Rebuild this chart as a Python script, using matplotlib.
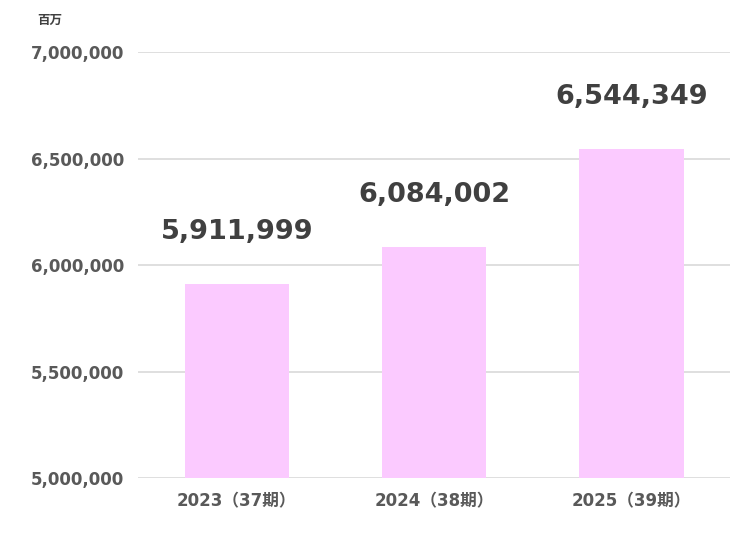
import matplotlib
matplotlib.use("Agg")
import matplotlib.pyplot as plt
from matplotlib.ticker import FuncFormatter

plt.rcParams['font.family'] = ['DejaVu Sans', 'Noto Sans CJK JP']

categories = ["2023（37期）", "2024（38期）", "2025（39期）"]
values = [5911999, 6084002, 6544349]
yticks = [5000000, 5500000, 6000000, 6500000, 7000000]

fig = plt.figure(figsize=(7.55, 5.33), dpi=100)
ax = fig.add_axes([0.183, 0.103, 0.784, 0.799])
x = range(len(categories))
ax.bar(x, values, width=0.53, color="#FBCAFF", zorder=2)
ax.set_xlim(-0.5, 2.5)
ax.set_ylim(5000000, 7000000)
ax.set_yticks(yticks)
ax.yaxis.set_major_formatter(FuncFormatter(lambda v, p: f"{int(v):,}"))
ax.grid(axis="y", color="#D9D9D9", linewidth=1.2, zorder=0)
for s in ax.spines.values():
    s.set_visible(False)
ax.tick_params(length=0, labelsize=12, labelcolor="#595959", pad=10)
ax.set_xticks(list(x))
ax.set_xticklabels(categories)
for lab in ax.get_xticklabels() + ax.get_yticklabels():
    lab.set_fontweight("bold")
for i, v in zip(x, values):
    ax.annotate(f"{v:,}", (i, v), xytext=(0, 28), textcoords="offset points",
                ha="center", va="bottom", fontsize=19.5, fontweight="bold", color="#404040")
fig.text(50/755, 1-20/533, "百万", ha="center", va="center", fontsize=9,
         fontweight="bold", color="#404040", family=['Noto Sans CJK JP'])
fig.savefig("out.png", dpi=100)
